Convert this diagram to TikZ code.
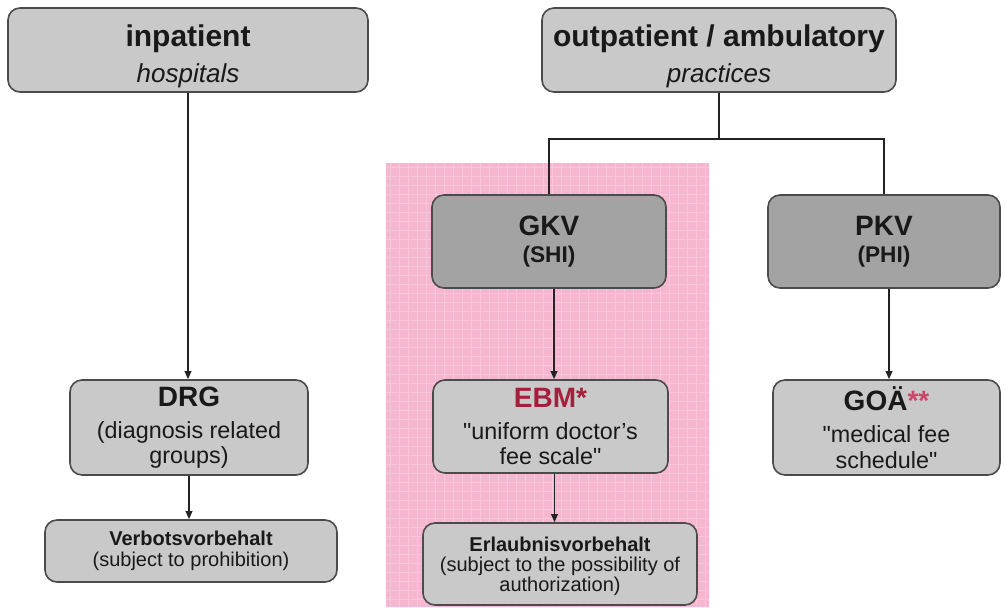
\documentclass[tikz,border=0pt]{standalone}
\usepackage{fontspec}
\setmainfont{Liberation Sans}
\usetikzlibrary{arrows.meta,positioning,calc}

\tikzset{
  box/.style={draw={rgb,255:red,75;green,75;blue,75}, line width=1.2pt, rounded corners=9pt,
    fill={rgb,255:red,201;green,201;blue,201}, align=center, inner sep=0pt,
    text={rgb,255:red,25;green,25;blue,25}},
  darkbox/.style={box, fill={rgb,255:red,163;green,163;blue,163}},
  conn/.style={draw={rgb,255:red,35;green,35;blue,35}, line width=1.1pt},
  arr/.style={conn, -{Triangle[length=6pt,width=5pt]}},
  gridline/.style={draw={rgb,255:red,249;green,199;blue,219}, line width=0.4pt},
}

\begin{document}
\begin{tikzpicture}[x=0.75pt, y=-0.75pt]
        \useasboundingbox (0,0) rectangle (1005,607);

        % pink backdrop behind the SHI column
        \fill[fill={rgb,255:red,246;green,182;blue,207}] (386,163) rectangle (709,607);
        \foreach \gx in {390,399,...,706}
            \draw[gridline] (\gx,163) -- (\gx,607);
        \foreach \gy in {167,176,...,604}
            \draw[gridline] (386,\gy) -- (709,\gy);

        % sectors
        \node[box, minimum width=270pt, minimum height=63pt, font=\fontsize{22.5}{27.5}\selectfont] (inp) at (188,50)
            {\rule{0pt}{26pt}\textbf{inpatient}\\{\itshape\fontsize{19.5}{27}\selectfont hospitals}};
        \node[box, minimum width=265.5pt, minimum height=63pt, font=\fontsize{22.5}{27.5}\selectfont] (outp) at (719,50)
            {\rule{0pt}{26pt}\textbf{outpatient / ambulatory}\\{\itshape\fontsize{19.5}{27}\selectfont practices}};

        % insurers
        \node[darkbox, minimum width=175.5pt, minimum height=69.75pt, font=\fontsize{17}{20}\selectfont\bfseries] (gkv) at (549,241.5)
            {{\fontsize{21}{21}\selectfont GKV}\\(SHI)};
        \node[darkbox, minimum width=174pt, minimum height=69.75pt, font=\fontsize{17}{20}\selectfont\bfseries] (pkv) at (884,241.5)
            {{\fontsize{21}{21}\selectfont PKV}\\(PHI)};

        % fee systems
        \node[box, minimum width=178.5pt, minimum height=71.25pt, font=\fontsize{17.5}{19}\selectfont] (drg) at (189,427.5)
            {{\fontsize{21}{21}\selectfont\bfseries DRG}\\[5pt](diagnosis related\\groups)};
        \node[box, minimum width=176.25pt, minimum height=69.75pt, font=\fontsize{17.5}{19}\selectfont] (ebm) at (550.5,426.5)
            {{\fontsize{21}{21}\selectfont\bfseries\color[RGB]{165,30,60}EBM*}\\[5pt]\textquotedbl uniform doctor's\\fee scale\textquotedbl};
        \node[box, minimum width=170.25pt, minimum height=71.25pt, font=\fontsize{17.5}{19}\selectfont] (goa) at (886.5,427.5)
            {{\fontsize{21}{21}\selectfont\bfseries GOÄ\textcolor[RGB]{205,70,105}{**}}\\[5pt]\textquotedbl medical fee\\schedule\textquotedbl};

        % reservations
        \node[box, minimum width=219pt, minimum height=46.5pt, font=\fontsize{15}{16}\selectfont] (verb) at (191,551)
            {\textbf{Verbotsvorbehalt}\\(subject to prohibition)};
        \node[box, minimum width=205.5pt, minimum height=61.5pt, font=\fontsize{15}{15}\selectfont] (erl) at (560,564)
            {\rule{0pt}{14pt}\textbf{Erlaubnisvorbehalt}\\(subject to the possibility of\\authorization)};

        % connectors
        \coordinate (split) at ($(outp.south)+(0,46)$);
        \draw[arr] (inp.south) -- (inp.south |- drg.north);
        \draw[arr] (drg.south) -- (drg.south |- verb.north);
        \draw[conn] (outp.south) -- (split);
        \draw[conn] (gkv.north) -- (gkv.north |- split) -- (pkv.north |- split) -- (pkv.north);
        \draw[arr] ($(gkv.south)+(5,0)$) -- ($(gkv.south |- ebm.north)+(5,0)$);
        \draw[arr] ($(ebm.south)+(4,0)$) -- ($(ebm.south |- erl.north)+(4,0)$);
        \draw[arr] ($(pkv.south)+(5,0)$) -- ($(pkv.south |- goa.north)+(5,0)$);
\end{tikzpicture}
\end{document}
